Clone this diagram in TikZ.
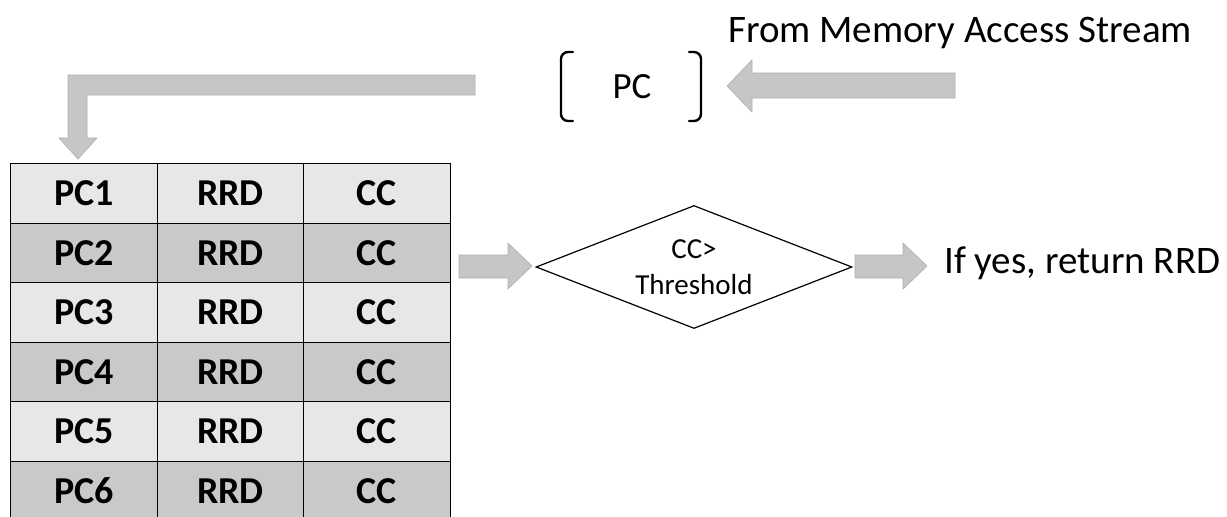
\documentclass[tikz,border=0pt]{standalone}
\usepackage{fontspec}
\setmainfont{Carlito}
\usetikzlibrary{shapes.geometric}
\definecolor{rowlight}{HTML}{E7E7E7}
\definecolor{rowdark}{HTML}{C9C9C9}
\definecolor{arrowfill}{HTML}{C6C6C6}
\definecolor{arrowline}{HTML}{ADADAD}
\tikzset{
  cell/.style={draw=black, line width=1.4pt, minimum width=146.5pt, minimum height=59.5pt,
    inner sep=0pt, font=\fontsize{38}{40}\selectfont\bfseries, anchor=north west},
  lightcell/.style={cell, fill=rowlight},
  darkcell/.style={cell, fill=rowdark},
  blockarrow/.style={fill=arrowfill, draw=arrowline, line width=0.6pt, line join=miter},
  bigtext/.style={font=\fontsize{39}{42}\selectfont, inner sep=0pt},
  bracket/.style={line width=2.4pt, rounded corners=7pt, line cap=round},
}
\begin{document}
\begin{tikzpicture}[x=1pt, y=-1pt]
\useasboundingbox (0,0) rectangle (1227,517);
\begin{scope}
\clip (0,0) rectangle (1227,517);
% lookup table: PC, reuse distance, confidence counter
\foreach \r/\sty in {1/lightcell,2/darkcell,3/lightcell,4/darkcell,5/lightcell,6/darkcell}{
  \pgfmathsetmacro{\yy}{163+(\r-1)*59.5}
  \node[\sty] (pc\r)  at (10,\yy)    {PC\r};
  \node[\sty] (rrd\r) at (156.5,\yy) {RRD};
  \node[\sty] (cc\r)  at (303,\yy)   {CC};
}
\end{scope}

% incoming PC
\node[bigtext] (src) at (960,33) {From Memory Access Stream};
\node[bigtext, font=\fontsize{37}{40}\selectfont] (pc) at (632,87) {PC};
\coordinate (bl) at (573,52);
\coordinate (br) at (689,52);
\draw[bracket] (bl) -- ++(-12,0) -- ++(0,69) -- ++(12,0);
\draw[bracket] (br) -- ++(12,0) -- ++(0,69) -- ++(-12,0);

% arrow from the access stream into the PC register
\draw[blockarrow] (955,73) -- (752,73) -- (752,60) -- (727,86) -- (752,112) -- (752,98) -- (955,98) -- cycle;

% bent arrow from the PC register down to the table
\draw[blockarrow] (475,75) -- (68,75) -- (68,138) -- (59,138) -- (78,159) -- (97,138) -- (87,138) -- (87,95) -- (475,95) -- cycle;

% threshold test
\node[draw=black, line width=1.2pt, shape=diamond, aspect=2.57, minimum width=316pt, minimum height=123pt,
  inner sep=0pt, align=center, font=\fontsize{29}{36}\selectfont] (test) at (694,267) {CC>\\Threshold};

% arrows into and out of the test
\draw[blockarrow] (459,255) -- (508,255) -- (508,243) -- (532,266) -- (508,289) -- (508,278) -- (459,278) -- cycle;
\draw[blockarrow] (855,255) -- (903,255) -- (903,243) -- (927,266) -- (903,289) -- (903,278) -- (855,278) -- cycle;

\node[bigtext, anchor=west] (out) at (944,263) {If yes, return RRD};
\end{tikzpicture}
\end{document}
